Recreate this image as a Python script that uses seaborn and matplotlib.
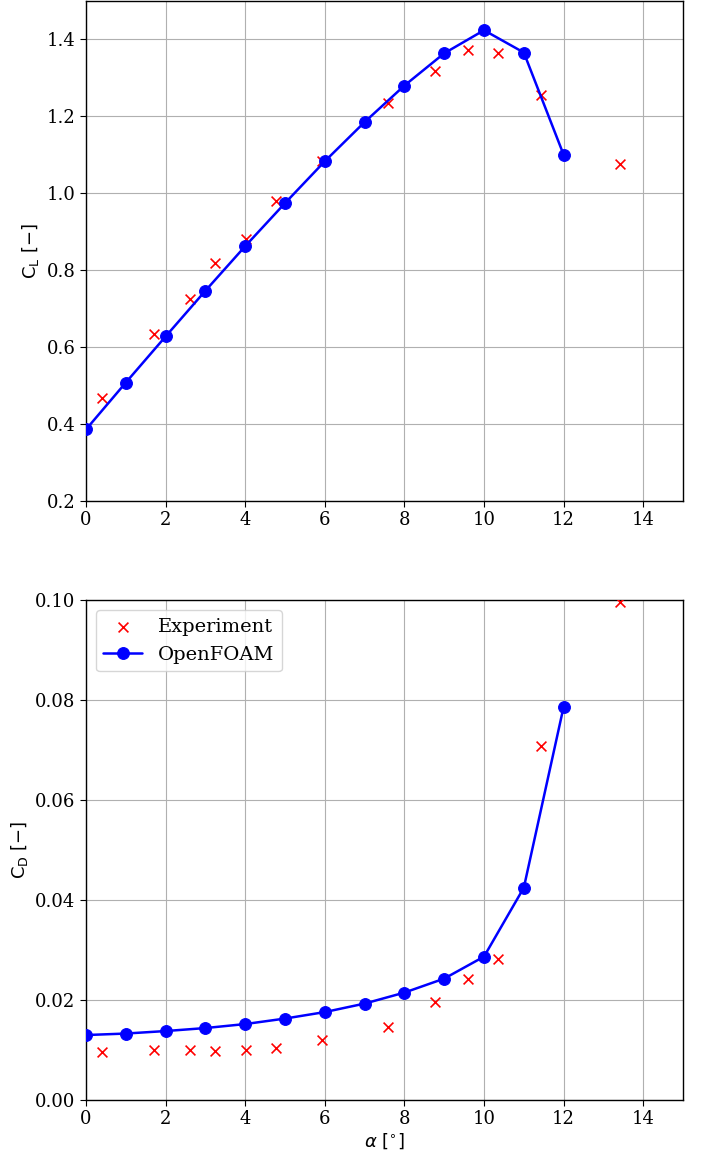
import numpy as np
import pandas as pd
import matplotlib
matplotlib.use("Agg")
import matplotlib.pyplot as plt
import seaborn as sns

# OpenFOAM results
alpha_cfd = [0, 1, 2, 3, 4, 5, 6, 7, 8, 9, 10, 11, 12]
cl_cfd = [0.385, 0.507, 0.627, 0.746, 0.862, 0.974, 1.083, 1.185, 1.280, 1.364, 1.424, 1.366, 1.100]
cd_cfd = [0.0130, 0.0133, 0.0138, 0.0144, 0.0152, 0.0163, 0.0176, 0.0193, 0.0215, 0.0243, 0.0287, 0.0425, 0.0787]

# Wind-tunnel measurements
alpha_exp = [0.40, 1.71, 2.62, 3.25, 4.01, 4.78, 5.94, 7.58, 8.78, 9.59, 10.35, 11.42, 13.41]
cl_exp = [0.466, 0.633, 0.725, 0.817, 0.882, 0.980, 1.085, 1.235, 1.319, 1.372, 1.366, 1.256, 1.075]
cd_exp = [0.0096, 0.0101, 0.0101, 0.0099, 0.0101, 0.0105, 0.0121, 0.0146, 0.0196, 0.0243, 0.0282, 0.0708, 0.0996]

sns.set_style("ticks")
plt.rcParams.update({
    "font.family": ["DejaVu Serif"],
    "font.size": 13,
    "axes.edgecolor": "black",
    "axes.linewidth": 1.0,
    "xtick.color": "black",
    "ytick.color": "black",
    "axes.labelcolor": "black",
    "text.color": "black",
    "grid.color": "#b0b0b0",
    "grid.linewidth": 0.8,
})

df_cfd = pd.DataFrame({"alpha": alpha_cfd, "cl": cl_cfd, "cd": cd_cfd})
df_exp = pd.DataFrame({"alpha": alpha_exp, "cl": cl_exp, "cd": cd_exp})

fig, (ax1, ax2) = plt.subplots(2, 1, figsize=(7.03, 11.58), dpi=100)
fig.subplots_adjust(left=0.1223, right=0.9716, top=0.9991, bottom=0.0501, hspace=0.2)


def draw(ax, col):
    sns.scatterplot(data=df_exp, x="alpha", y=col, ax=ax, marker="x", color="red",
                    s=50, linewidth=1.2, label="Experiment", zorder=3)
    sns.lineplot(data=df_cfd, x="alpha", y=col, ax=ax, color="blue", marker="o",
                 markersize=8.5, markeredgecolor="blue", linewidth=1.8,
                 label="OpenFOAM", zorder=4)
    ax.set_xlim(0, 15)
    ax.grid(True)
    ax.set_axisbelow(True)
    ax.tick_params(labelsize=13, direction="out", length=4)
    ax.set_xticks([0, 2, 4, 6, 8, 10, 12, 14])


draw(ax1, "cl")
ax1.set_ylim(0.2, 1.5)
ax1.set_yticks([0.2, 0.4, 0.6, 0.8, 1.0, 1.2, 1.4])
ax1.set_xlabel("")
ax1.set_ylabel(r"$\mathrm{C_L}\ [-]$", fontsize=13)
ax1.get_legend().remove()

draw(ax2, "cd")
ax2.set_ylim(0.0, 0.1)
ax2.set_yticks([0.0, 0.02, 0.04, 0.06, 0.08, 0.10])
ax2.set_yticklabels(["0.00", "0.02", "0.04", "0.06", "0.08", "0.10"])
ax2.set_xlabel(r"$\alpha\ [^{\circ}]$", fontsize=13, labelpad=2)
ax2.set_ylabel(r"$\mathrm{C_D}\ [-]$", fontsize=13)
ax2.legend(loc="upper left", fontsize=14, framealpha=0.8, edgecolor="#cccccc")

fig.savefig("out.png", dpi=100)
